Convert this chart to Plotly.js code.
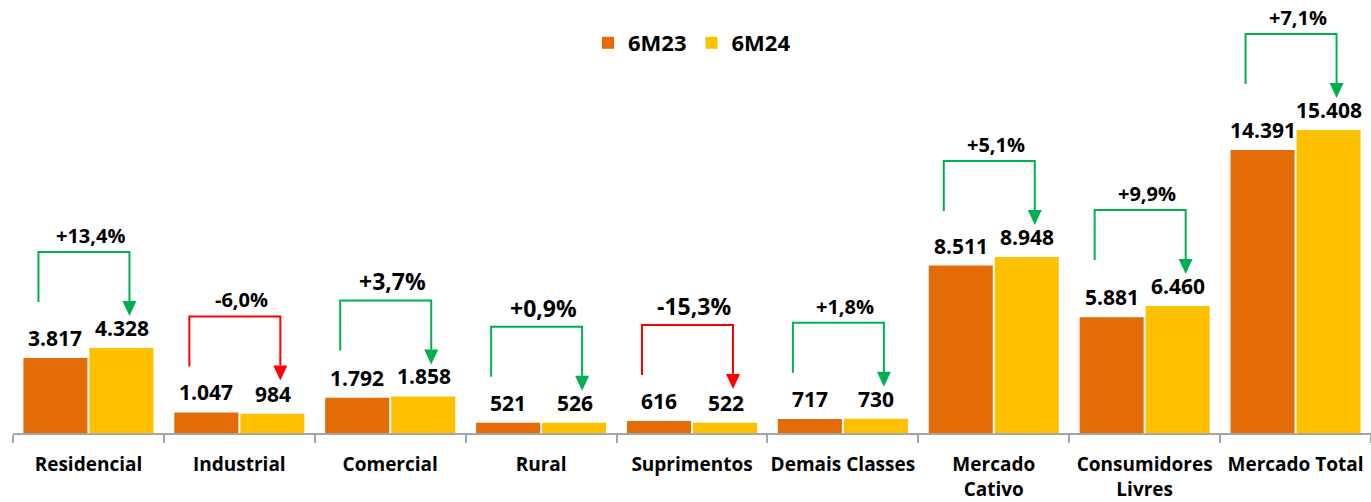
<!DOCTYPE html>
<html>
<head>
<meta charset="utf-8">
<script src="https://cdn.plot.ly/plotly-3.0.1.min.js"></script>
<style>html,body{margin:0;padding:0;background:#fff;}#chart{width:1371px;height:502px;}</style>
</head>
<body>
<div id="chart"></div>
<script>
const categories = ['Residencial','Industrial','Comercial','Rural','Suprimentos','Demais Classes','Mercado<br>Cativo','Consumidores<br>Livres','Mercado Total'];
const values6M23 = [3817,1047,1792,521,616,717,8511,5881,14391];
const values6M24 = [4328,984,1858,526,522,730,8948,6460,15408];
const pctLabels = ['+13,4%','-6,0%','+3,7%','+0,9%','-15,3%','+1,8%','+5,1%','+9,9%','+7,1%'];
const pctFontSizes = [20,20,23,23,23,20,20,20,20];

const ORANGE = '#E36C09', YELLOW = '#FFC000', GREEN = '#00B050', RED = '#FF0000';
const FONT = 'Open Sans, Arial, sans-serif';

const W = 1371, H = 502, mT = 20, mB = 69, mL = 13, mR = 0;
const plotH = H - mT - mB;
const yMax = 21000;
const k = yMax / plotH;              // data units per pixel (y)
const catPx = (W - mL - mR) / categories.length;

function fmt(v){ return String(v).replace(/\B(?=(\d{3})+(?!\d))/g, '.'); }

const traces = [
  {type:'bar', name:'6M23', x:categories, y:values6M23, marker:{color:ORANGE}, hoverinfo:'skip'},
  {type:'bar', name:'6M24', x:categories, y:values6M24, marker:{color:YELLOW}, hoverinfo:'skip'}
];

const annotations = [];
const shapes = [];
const idx = categories.map((c,i)=>i);

idx.forEach(i => {
  const a = values6M23[i], b = values6M24[i];
  const col = b >= a ? GREEN : RED;
  const top = Math.max(a,b) + 96*k;
  const leftX = i - 50/catPx, rightX = i + 41/catPx;
  const tip = top - 64*k;
  const headH = 15*k, headW = 7/catPx;
  traces.push({type:'scatter', mode:'lines', xaxis:'x2', yaxis:'y',
    x:[leftX,leftX,rightX,rightX], y:[top-50*k, top, top, tip+headH],
    line:{color:col, width:2}, showlegend:false, hoverinfo:'skip', cliponaxis:false});
  shapes.push({type:'path', xref:'x2', yref:'y',
    path:`M${rightX-headW},${tip+headH} L${rightX+headW},${tip+headH} L${rightX},${tip} Z`,
    fillcolor:col, line:{width:0}});
  annotations.push({xref:'x2', yref:'y', x:i + 2/catPx, y:top, yanchor:'bottom', yshift:1, showarrow:false,
    text:pctLabels[i], font:{family:FONT, size:pctFontSizes[i], color:'#000', weight:700}});
  annotations.push({xref:'x2', yref:'y', x:i - 33/catPx, y:a, yanchor:'bottom', yshift:4, showarrow:false,
    text:fmt(a), font:{family:FONT, size:21, color:'#000', weight:700}});
  annotations.push({xref:'x2', yref:'y', x:i + 33.5/catPx, y:b, yanchor:'bottom', yshift:4, showarrow:false,
    text:fmt(b), font:{family:FONT, size:21, color:'#000', weight:700}});
});

const layout = {
  width:W, height:H,
  margin:{t:mT, b:mB, l:mL, r:mR},
  paper_bgcolor:'#fff', plot_bgcolor:'#fff',
  barmode:'group', bargap:0.125, bargroupgap:0.03,
  showlegend:true,
  legend:{orientation:'h', x:0.5, xanchor:'center', y:(H-mB-43)/plotH, yanchor:'middle',
    font:{family:FONT, size:22, color:'#000', weight:700}, itemwidth:30, bgcolor:'rgba(0,0,0,0)'},
  xaxis:{type:'category', range:[-0.5, categories.length-0.5], showline:true, linecolor:'#A6A6A6', linewidth:2,
    ticks:'outside', tickson:'boundaries', ticklen:8, tickwidth:2, tickcolor:'#A6A6A6', tickangle:0,
    tickfont:{family:FONT, size:19, color:'#000', weight:700}, ticklabelstandoff:13,
    showgrid:false, zeroline:false, automargin:false, fixedrange:true},
  xaxis2:{overlaying:'x', range:[-0.5, categories.length-0.5], visible:false, fixedrange:true},
  yaxis:{range:[0,yMax], visible:false, showgrid:false, zeroline:false, fixedrange:true},
  annotations:annotations, shapes:shapes,
  font:{family:FONT}
};

Plotly.newPlot('chart', traces, layout, {displayModeBar:false, staticPlot:true});
</script>
</body>
</html>
